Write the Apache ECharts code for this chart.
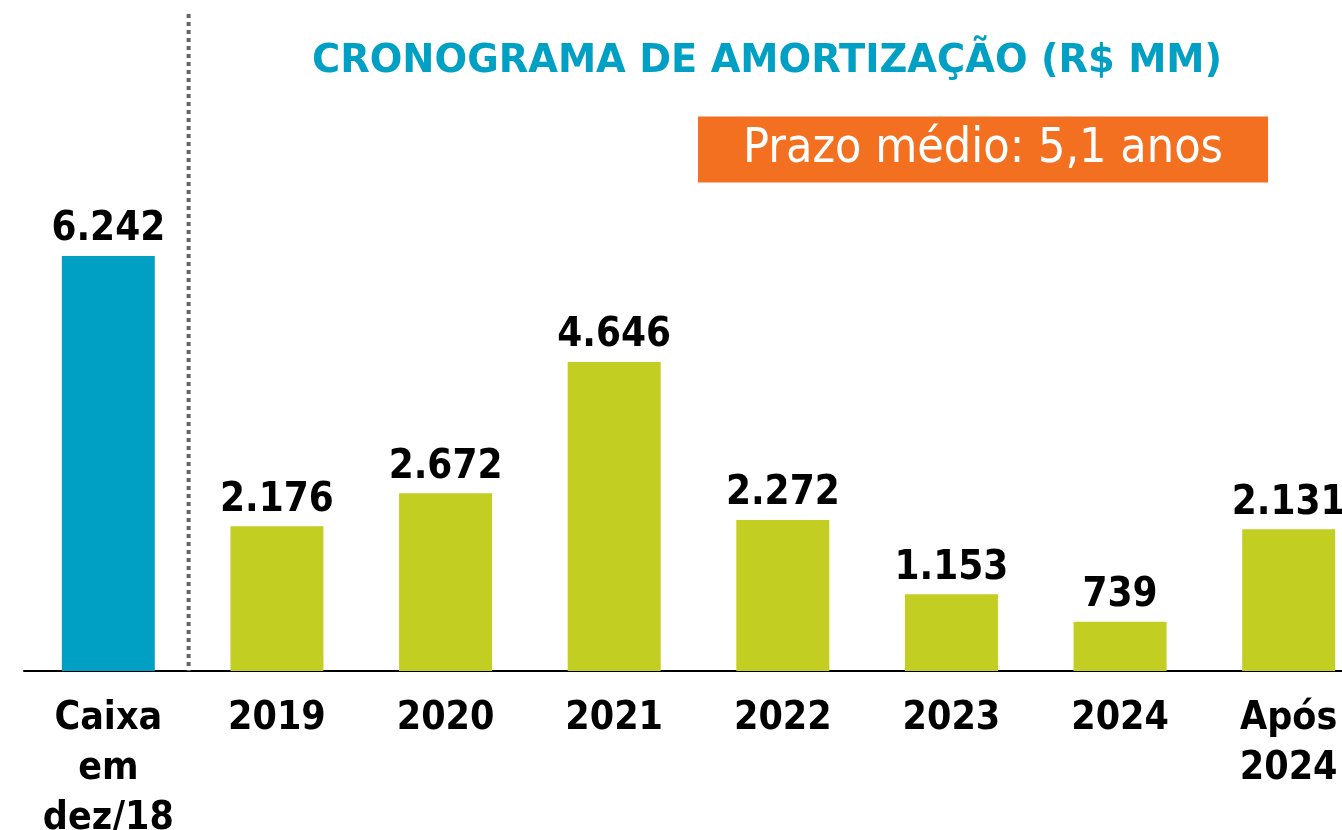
<!DOCTYPE html>
<html>
<head>
<meta charset="utf-8">
<script src="https://cdn.jsdelivr.net/npm/echarts@6/dist/echarts.min.js"></script>
<style>
  html, body { margin: 0; padding: 0; background: #fff; }
  #chart-area { width: 1342px; height: 830px; }
</style>
</head>
<body>
<div id="chart-area"></div>
<script>
// categorias e valores (R$ MM)
const categories = ['Caixa\nem\ndez/18', '2019', '2020', '2021', '2022', '2023', '2024', 'Após\n2024'];
const values = [6242, 2176, 2672, 4646, 2272, 1153, 739, 2131];
const titleText = 'CRONOGRAMA DE AMORTIZAÇÃO (R$ MM)';
const badgeText = 'Prazo médio: 5,1 anos';

const BLUE = '#00A0C4';
const GREEN = '#C3CE23';
const ORANGE = '#F37021';
const FONT = '"DejaVu Sans Condensed", "DejaVu Sans", sans-serif';

const fmt = (v) => v.toLocaleString('pt-BR');

const myChart = echarts.init(document.getElementById('chart-area'));
const option = {
	backgroundColor: '#fff',
	animation: false,
	title: [
		{
			text: titleText,
			left: 307,
			top: 38,
			textStyle: { color: BLUE, fontFamily: '"DejaVu Sans", sans-serif', fontWeight: 'bold', fontSize: 38.4 }
		},
		{
			text: badgeText,
			left: 698,
			top: 118,
			backgroundColor: ORANGE,
			padding: [9, 45, 9, 45],
			textStyle: { color: '#fff', fontFamily: FONT, fontWeight: 'normal', fontSize: 48, lineHeight: 45 }
		}
	],
	grid: { left: 24, width: 1349, top: 14, bottom: 159, outerBoundsMode: 'none', containLabel: false },
	xAxis: {
		type: 'category',
		data: categories,
		axisLine: { lineStyle: { color: '#000', width: 2 } },
		axisTick: { show: false },
		axisLabel: {
			interval: 0,
			margin: 23,
			color: '#000',
			fontFamily: FONT,
			fontWeight: 'bold',
			fontSize: 39,
			lineHeight: 50
		}
	},
	yAxis: {
		type: 'value',
		min: 0,
		max: 9880,
		show: false,
		splitLine: { show: false }
	},
	series: [{
		type: 'bar',
		barWidth: 93,
		data: values.map((v, i) => ({ value: v, itemStyle: { color: i === 0 ? BLUE : GREEN } })),
		label: {
			show: true,
			position: 'top',
			distance: 6,
			color: '#000',
			fontFamily: FONT,
			fontWeight: 'bold',
			fontSize: 40,
			formatter: (p) => fmt(p.value)
		}
	}]
};
option && myChart.setOption(option);

// linha pontilhada separando o caixa dos vencimentos
const x0 = myChart.convertToPixel({ xAxisIndex: 0 }, 0);
const x1 = myChart.convertToPixel({ xAxisIndex: 0 }, 1);
const yTop = myChart.convertToPixel({ yAxisIndex: 0 }, 9880);
const yBase = myChart.convertToPixel({ yAxisIndex: 0 }, 0);
const sepX = (x0 + x1) / 2 - 4;
myChart.setOption({
	graphic: [{
		type: 'line',
		shape: { x1: sepX, y1: yTop, x2: sepX, y2: yBase },
		style: { stroke: '#666', lineWidth: 4, lineDash: [4, 4] },
		z: 1
	}]
});
</script>
</body>
</html>
